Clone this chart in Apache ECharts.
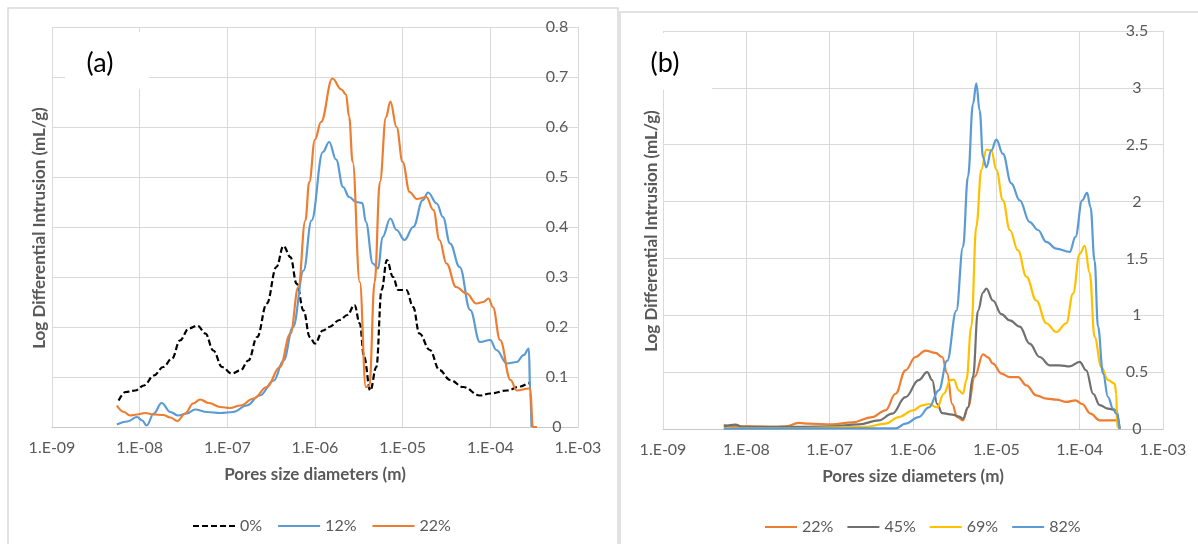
<!DOCTYPE html>
<html>
<head>
<meta charset="utf-8">
<script src="https://cdn.jsdelivr.net/npm/echarts@6/dist/echarts.min.js"></script>
<style>
html,body{margin:0;padding:0;background:#fff;}
#chart{width:1198px;height:544px;}
</style>
</head>
<body>
<div id="chart"></div>
<script>
// ---------- Panel (a) data: pore diameter (m) and log differential intrusion (mL/g) ----------
const a0_d = [5.75e-9,6.92e-9,8.91e-9,1.12e-8,1.45e-8,1.86e-8,2.34e-8,2.88e-8,3.63e-8,4.57e-8,5.62e-8,6.92e-8,8.71e-8,1.12e-7,1.41e-7,1.74e-7,2.19e-7,2.82e-7,3.63e-7,4.37e-7,5.25e-7,6.17e-7,7.41e-7,8.71e-7,1.0e-6,1.23e-6,1.45e-6,1.91e-6,2.34e-6,2.82e-6,3.24e-6,3.63e-6,4.27e-6,5.01e-6,5.75e-6,6.61e-6,7.76e-6,8.91e-6,1.1e-5,1.32e-5,1.55e-5,2.04e-5,2.63e-5,3.47e-5,4.9e-5,7.59e-5,1.0e-4,1.55e-4,2.19e-4,2.75e-4,2.82e-4];
const a0_v = [0.053,0.070,0.073,0.083,0.103,0.120,0.137,0.173,0.197,0.203,0.187,0.153,0.120,0.107,0.113,0.133,0.180,0.247,0.320,0.362,0.340,0.287,0.233,0.180,0.167,0.193,0.200,0.214,0.224,0.244,0.207,0.140,0.073,0.120,0.274,0.334,0.300,0.274,0.274,0.240,0.187,0.154,0.114,0.094,0.080,0.063,0.067,0.073,0.081,0.087,0.090];

const a12_d = [5.5e-9,7.24e-9,9.33e-9,1.07e-8,1.2e-8,1.45e-8,1.78e-8,2.24e-8,2.75e-8,3.47e-8,4.27e-8,5.89e-8,8.32e-8,1.17e-7,1.66e-7,2.34e-7,3.39e-7,4.37e-7,5.62e-7,7.41e-7,9.12e-7,1.23e-6,1.45e-6,1.74e-6,2.09e-6,2.45e-6,2.95e-6,3.47e-6,3.8e-6,4.57e-6,5.25e-6,5.89e-6,7.24e-6,8.51e-6,1.05e-5,1.32e-5,1.7e-5,1.95e-5,2.45e-5,2.88e-5,3.47e-5,4.47e-5,5.89e-5,7.59e-5,1.0e-4,1.17e-4,1.55e-4,2.0e-4,2.4e-4,2.75e-4,2.85e-4,2.95e-4];
const a12_v = [0.005,0.011,0.020,0.013,0.003,0.027,0.048,0.030,0.023,0.027,0.035,0.030,0.028,0.030,0.043,0.063,0.093,0.133,0.200,0.313,0.413,0.550,0.570,0.535,0.480,0.460,0.450,0.448,0.410,0.327,0.317,0.380,0.417,0.394,0.374,0.400,0.454,0.469,0.447,0.420,0.367,0.320,0.234,0.170,0.174,0.154,0.127,0.130,0.144,0.157,0.070,0.000];

const a22_d = [5.5e-9,6.61e-9,7.76e-9,9.33e-9,1.15e-8,1.45e-8,1.86e-8,2.24e-8,2.69e-8,3.31e-8,4.07e-8,4.9e-8,6.17e-8,8.32e-8,1.07e-7,1.41e-7,2.0e-7,2.82e-7,3.98e-7,5.25e-7,6.46e-7,7.76e-7,8.6e-7,1.0e-6,1.17e-6,1.58e-6,2.0e-6,2.26e-6,2.45e-6,2.69e-6,3.24e-6,3.8e-6,4.17e-6,4.79e-6,5.5e-6,6.46e-6,7.24e-6,8.51e-6,1.0e-5,1.2e-5,1.45e-5,1.86e-5,2.24e-5,2.63e-5,3.16e-5,4.07e-5,5.37e-5,6.92e-5,8.32e-5,9.55e-5,1.07e-4,1.29e-4,1.7e-4,2.0e-4,2.75e-4,2.85e-4,3.05e-4,3.4e-4];
const a22_v = [0.043,0.030,0.023,0.025,0.028,0.025,0.024,0.019,0.012,0.027,0.047,0.055,0.048,0.040,0.038,0.043,0.057,0.080,0.120,0.187,0.280,0.413,0.490,0.575,0.610,0.697,0.675,0.665,0.620,0.530,0.290,0.080,0.082,0.290,0.490,0.620,0.651,0.600,0.530,0.470,0.456,0.460,0.434,0.374,0.327,0.280,0.267,0.247,0.250,0.257,0.240,0.174,0.094,0.073,0.077,0.077,0.000,0.000];

// ---------- Panel (b) data ----------
const b22_d = [5.37e-9,6.76e-9,1.07e-8,2.24e-8,2.95e-8,4.27e-8,5.62e-8,1.07e-7,1.86e-7,3.24e-7,4.68e-7,6.17e-7,8.13e-7,1.07e-6,1.41e-6,1.86e-6,2.24e-6,2.57e-6,2.95e-6,3.39e-6,3.98e-6,4.57e-6,5.5e-6,6.92e-6,7.94e-6,9.12e-6,1.15e-5,1.45e-5,1.82e-5,2.29e-5,3.02e-5,3.98e-5,5.25e-5,6.92e-5,8.91e-5,1.07e-4,1.35e-4,1.74e-4,2.29e-4,2.75e-4,3.02e-4];
const b22_v = [0.038,0.023,0.023,0.018,0.023,0.053,0.047,0.041,0.059,0.105,0.164,0.310,0.516,0.633,0.690,0.670,0.633,0.490,0.220,0.105,0.076,0.190,0.460,0.657,0.630,0.575,0.487,0.457,0.457,0.384,0.296,0.267,0.258,0.238,0.252,0.220,0.135,0.076,0.076,0.076,0.000];

const b45_d = [5.37e-9,7.41e-9,8.91e-9,4.27e-8,1.07e-7,2.24e-7,3.89e-7,5.62e-7,8.13e-7,1.17e-6,1.48e-6,1.7e-6,1.95e-6,2.24e-6,2.95e-6,3.55e-6,3.98e-6,4.57e-6,5.25e-6,6.03e-6,6.92e-6,7.59e-6,9.12e-6,1.15e-5,1.45e-5,1.91e-5,2.51e-5,3.31e-5,4.37e-5,5.75e-5,7.59e-5,1.0e-4,1.2e-4,1.45e-4,1.74e-4,2.19e-4,2.75e-4,3.02e-4];
const b45_v = [0.023,0.038,0.018,0.018,0.023,0.040,0.076,0.135,0.280,0.430,0.500,0.430,0.220,0.140,0.126,0.110,0.090,0.190,0.460,1.040,1.200,1.235,1.130,1.010,0.955,0.900,0.750,0.633,0.560,0.560,0.550,0.590,0.516,0.310,0.210,0.180,0.165,0.000];

const b69_d = [5.37e-9,3.16e-8,2.69e-7,4.68e-7,6.76e-7,1.0e-6,1.29e-6,1.55e-6,1.95e-6,2.34e-6,2.82e-6,3.09e-6,3.55e-6,3.98e-6,4.37e-6,5.01e-6,5.75e-6,6.61e-6,7.59e-6,8.71e-6,1.0e-5,1.2e-5,1.45e-5,1.82e-5,2.29e-5,3.02e-5,3.98e-5,5.25e-5,6.92e-5,8.32e-5,1.0e-4,1.15e-4,1.32e-4,1.51e-4,1.82e-4,2.19e-4,2.63e-4,2.75e-4,2.82e-4,3.02e-4];
const b69_v = [0.005,0.005,0.018,0.047,0.105,0.164,0.208,0.220,0.190,0.310,0.430,0.434,0.340,0.310,0.430,0.900,1.780,2.280,2.457,2.450,2.280,2.010,1.750,1.570,1.340,1.130,0.930,0.853,0.930,1.190,1.540,1.610,1.370,0.810,0.545,0.430,0.400,0.310,0.020,0.000];

const b82_d = [5.37e-9,6.17e-7,8.13e-7,1.17e-6,1.55e-6,2.04e-6,2.57e-6,3.31e-6,3.98e-6,4.57e-6,5.25e-6,5.75e-6,6.31e-6,6.92e-6,7.59e-6,8.71e-6,1.0e-5,1.2e-5,1.51e-5,1.91e-5,2.51e-5,3.16e-5,3.98e-5,5.25e-5,7.59e-5,8.91e-5,1.07e-4,1.23e-4,1.35e-4,1.51e-4,1.66e-4,1.91e-4,2.19e-4,2.51e-4,2.75e-4,3.02e-4];
const b82_v = [0.003,0.005,0.047,0.105,0.190,0.340,0.600,1.040,1.600,2.220,2.860,3.040,2.800,2.390,2.300,2.450,2.545,2.420,2.160,2.010,1.820,1.750,1.645,1.586,1.557,1.690,2.010,2.076,1.950,1.480,0.900,0.487,0.280,0.180,0.135,0.000];

const legendA = ['0%','12%','22%'];
const legendB = ['22%','45%','69%','82%'];
const panelLabels = ['(a)','(b)'];
const xName = 'Pores size diameters (m)';
const yName = 'Log Differential Intrusion (mL/g)';

const pairs = (d, v) => d.map((x, i) => [x, v[i]]);
const FONT = 'Lato, "Open Sans", sans-serif';
const GRID_C = '#d9d9d9';
const TXT_C = '#595959';

const xFmt = function (v) {
  const e = Math.round(Math.log10(v));
  return '1.E' + (e < 0 ? '-' : '+') + String(Math.abs(e)).padStart(2, '0');
};

function xAxisCfg(gi) {
  return {
    type: 'log', logBase: 10, gridIndex: gi, min: 1e-9, max: 1e-3, splitNumber: 6,
    name: xName, nameLocation: 'middle', nameGap: 39,
    nameTextStyle: { color: TXT_C, fontWeight: 'bold', fontSize: 17, fontFamily: FONT },
    axisLine: { show: true, lineStyle: { color: '#c8c8c8', width: 1 } },
    axisTick: { show: false },
    minorTick: { show: false },
    splitLine: { show: true, lineStyle: { color: GRID_C, width: 1 } },
    axisLabel: { color: TXT_C, fontSize: 16, fontFamily: FONT, margin: 13, formatter: xFmt }
  };
}
function yAxisCfg(gi, max, interval, margin) {
  return {
    type: 'value', gridIndex: gi, position: 'right', min: 0, max: max, interval: interval,
    axisLine: { show: true, lineStyle: { color: GRID_C, width: 1 } },
    axisTick: { show: false },
    splitLine: { show: true, lineStyle: { color: GRID_C, width: 1 } },
    axisLabel: { inside: true, align: 'center', margin: margin, color: TXT_C, fontSize: 16, fontFamily: FONT }
  };
}
function lineSeries(name, data, color, xi, dashed) {
  return {
    type: 'line', name: name, xAxisIndex: xi, yAxisIndex: xi, data: data,
    symbol: 'none', smooth: 0.4, smoothMonotone: 'x',
    lineStyle: { color: color, width: 2.2, type: dashed ? [6, 3] : 'solid' },
    itemStyle: { color: color }
  };
}
const legendCommon = {
  itemHeight: 14,
  itemStyle: { opacity: 0 },
  textStyle: { color: TXT_C, fontSize: 16, fontFamily: FONT }
};

const chart = echarts.init(document.getElementById('chart'), null, { renderer: 'canvas' });
chart.setOption({
  backgroundColor: '#ffffff',
  animation: false,
  grid: [
    { left: 52, top: 27, width: 526, height: 400 },
    { left: 663, top: 31, width: 500, height: 398 }
  ],
  xAxis: [xAxisCfg(0), xAxisCfg(1)],
  yAxis: [yAxisCfg(0, 0.8, 0.1, 21), yAxisCfg(1, 3.5, 0.5, 26)],
  legend: [
    Object.assign({ data: legendA, left: 187, top: 513, itemWidth: 42, itemGap: 15 }, legendCommon),
    Object.assign({ data: legendB, left: 759, top: 514, itemWidth: 32, itemGap: 13 }, legendCommon)
  ],
  series: [
    lineSeries(legendA[0], pairs(a0_d, a0_v), '#000000', 0, true),
    lineSeries(legendA[1], pairs(a12_d, a12_v), '#5B9BD5', 0, false),
    lineSeries(legendA[2], pairs(a22_d, a22_v), '#ED7D31', 0, false),
    lineSeries(legendB[0], pairs(b22_d, b22_v), '#ED7D31', 1, false),
    lineSeries(legendB[1], pairs(b45_d, b45_v), '#707070', 1, false),
    lineSeries(legendB[2], pairs(b69_d, b69_v), '#FFC000', 1, false),
    lineSeries(legendB[3], pairs(b82_d, b82_v), '#5B9BD5', 1, false)
  ],
  graphic: [
    { type: 'rect', z: 1, silent: true, shape: { x: 8, y: 8, width: 610, height: 560 },
      style: { fill: 'none', stroke: GRID_C, lineWidth: 1.5 } },
    { type: 'rect', z: 1, silent: true, shape: { x: 620, y: 12, width: 600, height: 560 },
      style: { fill: 'none', stroke: GRID_C, lineWidth: 1.5 } },
    { type: 'rect', z: 10, silent: true, shape: { x: 65, y: 32, width: 84, height: 57 },
      style: { fill: '#ffffff' } },
    { type: 'rect', z: 10, silent: true, shape: { x: 645, y: 33, width: 67, height: 57 },
      style: { fill: '#ffffff' } },
    { type: 'text', z: 11, x: 100, y: 63, style: { text: panelLabels[0], fill: '#000000',
      font: '27px ' + FONT, textAlign: 'center', textVerticalAlign: 'middle' } },
    { type: 'text', z: 11, x: 665, y: 63, style: { text: panelLabels[1], fill: '#000000',
      font: '27px ' + FONT, textAlign: 'center', textVerticalAlign: 'middle' } },
    { type: 'text', z: 11, x: 40, y: 228, rotation: Math.PI / 2, style: { text: yName, fill: TXT_C,
      font: 'bold 17px ' + FONT, textAlign: 'center', textVerticalAlign: 'middle' } },
    { type: 'text', z: 11, x: 652, y: 231, rotation: Math.PI / 2, style: { text: yName, fill: TXT_C,
      font: 'bold 17px ' + FONT, textAlign: 'center', textVerticalAlign: 'middle' } }
  ]
});
</script>
</body>
</html>
